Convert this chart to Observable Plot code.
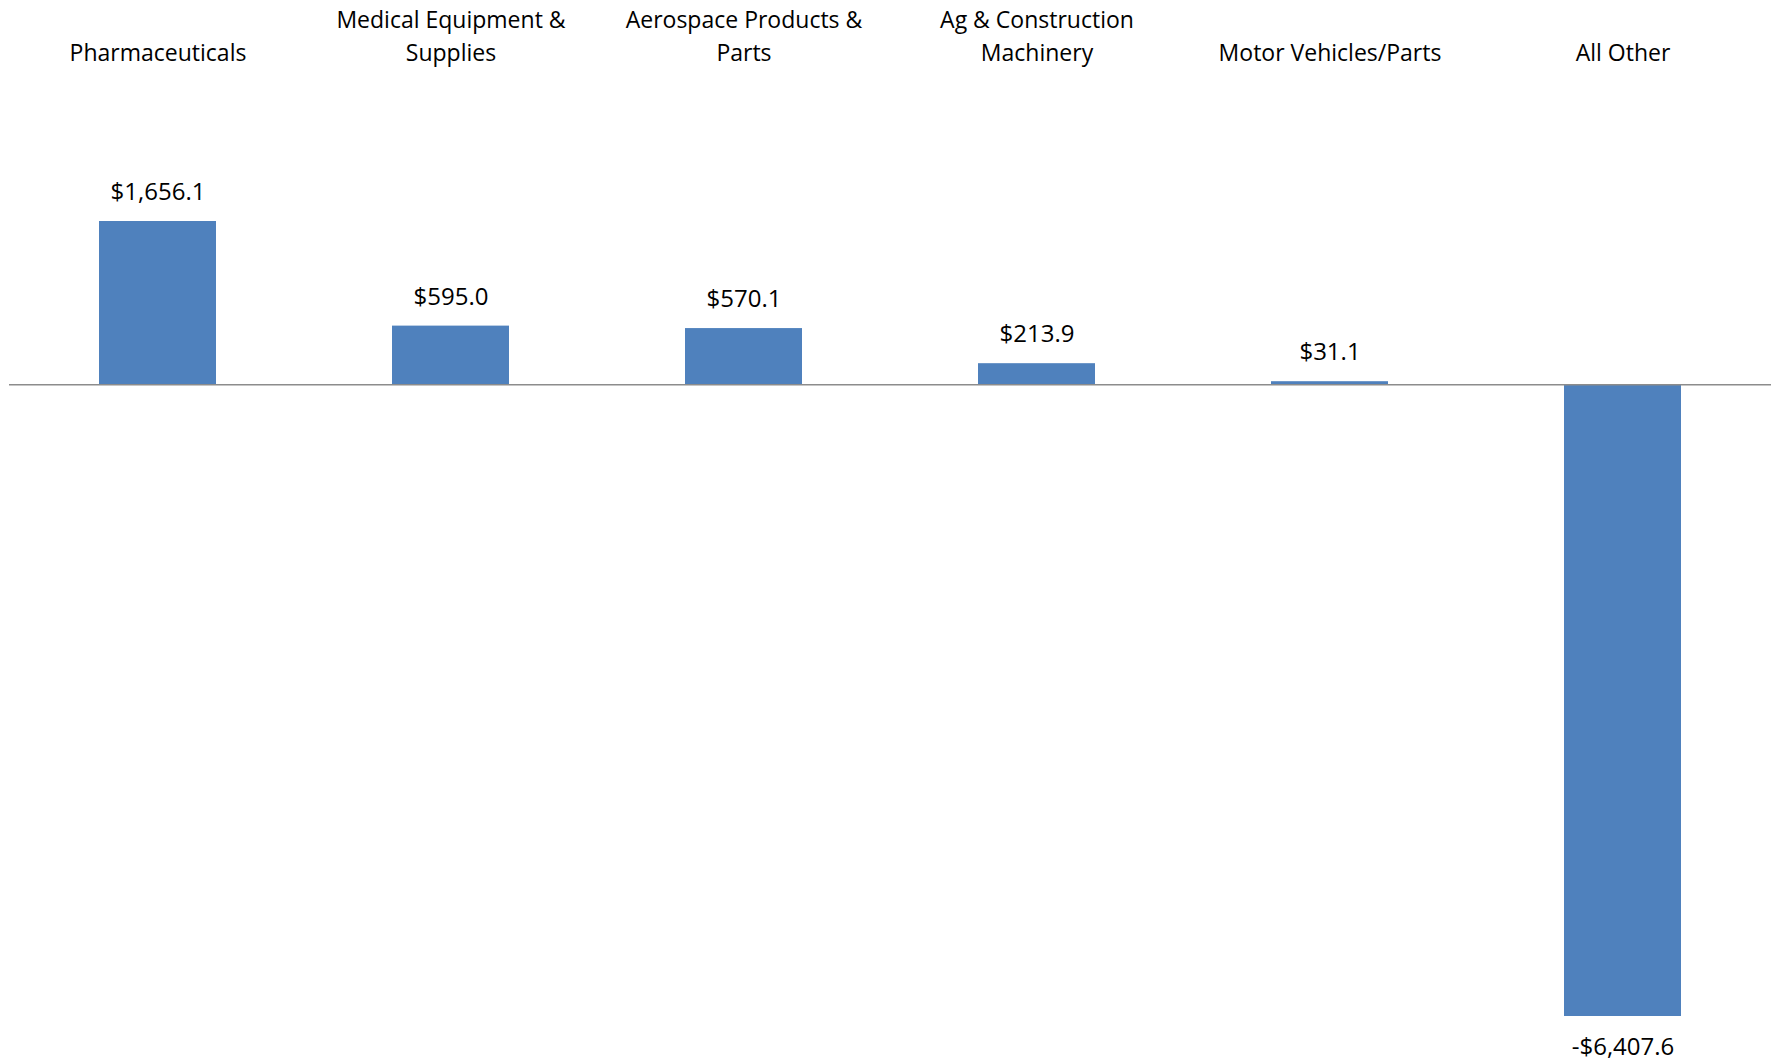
<!DOCTYPE html>
<html><head><meta charset="utf-8">
<script src="https://cdn.jsdelivr.net/npm/d3@7"></script>
<script src="https://cdn.jsdelivr.net/npm/@observablehq/plot@0.6"></script>
<style>body{margin:0;background:#fff}</style>
</head><body><div id="chart"></div>
<script>
const categories = ["Pharmaceuticals", "Medical Equipment & Supplies", "Aerospace Products & Parts", "Ag & Construction Machinery", "Motor Vehicles/Parts", "All Other"];
const values = [1656.1, 595.0, 570.1, 213.9, 31.1, -6407.6];
const tickLabels = ["Pharmaceuticals", "Medical Equipment &\nSupplies", "Aerospace Products &\nParts", "Ag & Construction\nMachinery", "Motor Vehicles/Parts", "All Other"];

const data = categories.map((c, i) => ({cat: c, value: values[i]}));
const fmt = v => (v < 0 ? "-" : "") + "$" + d3.format(",.1f")(Math.abs(v));

const chart = Plot.plot({
  width: 1777,
  height: 1062,
  marginTop: 221,
  marginBottom: 46,
  marginLeft: 9,
  marginRight: 6,
  style: {fontFamily: "'Open Sans', sans-serif", fontSize: "23px", color: "#000", background: "#fff"},
  x: {domain: categories, paddingInner: 0.6, paddingOuter: 0.3, axis: null},
  y: {domain: d3.extent(values), axis: null},
  marks: [
    Plot.barY(data, {x: "cat", y: "value", fill: "#4F81BD"}),
    Plot.ruleY([0], {stroke: "#8c8c8c", strokeWidth: 1.5}),
    Plot.text(data.filter(d => d.value >= 0), {x: "cat", y: "value", text: d => fmt(d.value), dy: -29, fontSize: 24, fill: "#000"}),
    Plot.text(data.filter(d => d.value < 0), {x: "cat", y: "value", text: d => fmt(d.value), dy: 31, fontSize: 24, fill: "#000"}),
    Plot.axisX({anchor: "top", label: null, tickSize: 0, tickPadding: 161, lineHeight: 1.43, fontSize: 23, fill: "#000",
      tickFormat: d => tickLabels[categories.indexOf(d)]})
  ]
});
document.getElementById("chart").append(chart);
</script>
</body></html>
